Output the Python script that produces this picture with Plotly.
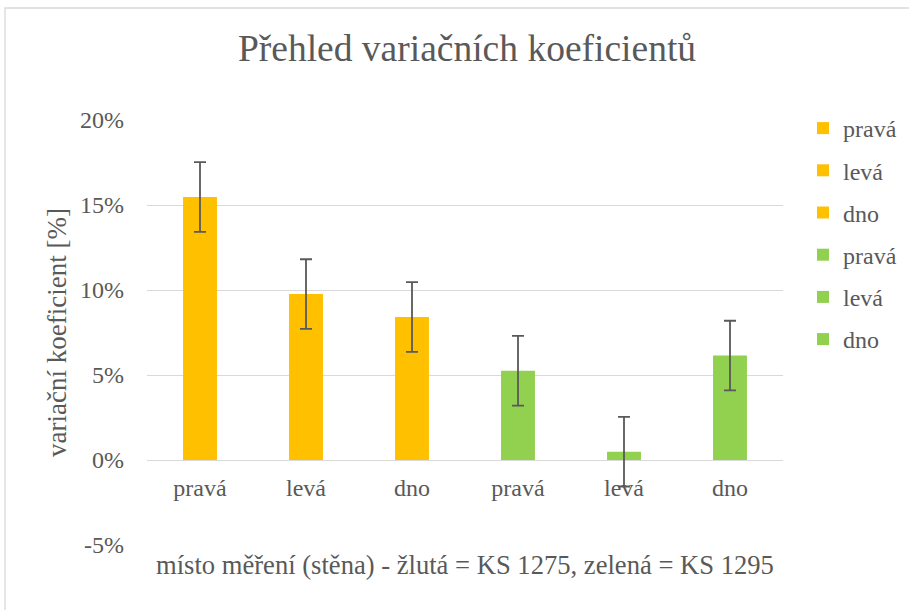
import plotly.graph_objects as go

categories = ["pravá", "levá", "dno", "pravá", "levá", "dno"]
values = [15.47, 9.76, 8.41, 5.25, 0.49, 6.14]
errors = [2.05, 2.05, 2.05, 2.05, 2.05, 2.05]
colors = ["#FFC000", "#FFC000", "#FFC000", "#92D050", "#92D050", "#92D050"]
y_ticks = [-5, 0, 5, 10, 15, 20]
y_tick_labels = ["-5%", "0%", "5%", "10%", "15%", "20%"]

W, H = 909, 610
ml, mr, mt, mb = 147, 126, 120, 65
pw, ph = W - ml - mr, H - mt - mb
FONT = "Liberation Serif"
GREY = "#595959"

fig = go.Figure()
for i, (c, v, e, col) in enumerate(zip(categories, values, errors, colors)):
    fig.add_trace(go.Bar(
        x=[i], y=[v], name=c, marker=dict(color=col, line=dict(width=0)),
        width=0.32, legendgroup=f"g{i}",
        error_y=dict(type="data", array=[e], visible=True, color=GREY,
                     thickness=1.8, width=6),
    ))

ymin, ymax = -5, 20
fig.update_layout(
    width=W, height=H,
    margin=dict(l=ml, r=mr, t=mt, b=mb, autoexpand=False),
    paper_bgcolor="white", plot_bgcolor="white",
    barmode="overlay",
    font=dict(family=FONT, color=GREY),
    title=dict(text="Přehled variačních koeficientů", x=467 / W, xanchor="center",
               y=1 - 48 / H, yanchor="middle", yref="container",
               font=dict(size=37.5, family=FONT, color=GREY)),
    xaxis=dict(range=[-0.5, 5.5], tickmode="array", tickvals=list(range(6)),
               ticktext=categories, showgrid=False, zeroline=False,
               showline=False, anchor="free",
               position=(0 - ymin) / (ymax - ymin),
               tickfont=dict(size=24, family=FONT, color=GREY),
               ticks="", ticklabelstandoff=11),
    yaxis=dict(range=[ymin, ymax], tickmode="array", tickvals=y_ticks,
               ticktext=y_tick_labels, showgrid=True, gridcolor="#D9D9D9",
               gridwidth=1.3, zeroline=False, showline=False,
               tickfont=dict(size=24, family=FONT, color=GREY),
               ticklabelstandoff=22,
               title=dict(text="variační koeficient [%]",
                          font=dict(size=27, family=FONT, color=GREY),
                          standoff=5)),
    legend=dict(x=(803 - ml) / pw, xanchor="left", y=1 + (mt - 106) / ph,
                yanchor="top", traceorder="grouped", tracegroupgap=8,
                font=dict(size=24, family=FONT, color=GREY),
                itemwidth=30, bgcolor="rgba(0,0,0,0)"),
    showlegend=True,
)

fig.add_annotation(text="místo měření (stěna) - žlutá = KS 1275, zelená = KS 1295",
                   xref="paper", yref="paper", x=(465 - ml) / pw,
                   y=-(565 - (H - mb)) / ph, xanchor="center", yanchor="middle",
                   showarrow=False, font=dict(size=26.6, family=FONT, color=GREY))

fig.add_shape(type="rect", xref="paper", yref="paper",
              x0=(5 - ml) / pw, x1=(W + 20 - ml) / pw,
              y0=-(H + 20 - (H - mb)) / ph, y1=1 + (mt - 8) / ph,
              line=dict(color="#D9D9D9", width=1.3), layer="below")

fig.write_html("out.html", config={"displayModeBar": False},
               post_script="document.body.style.margin='0';")
